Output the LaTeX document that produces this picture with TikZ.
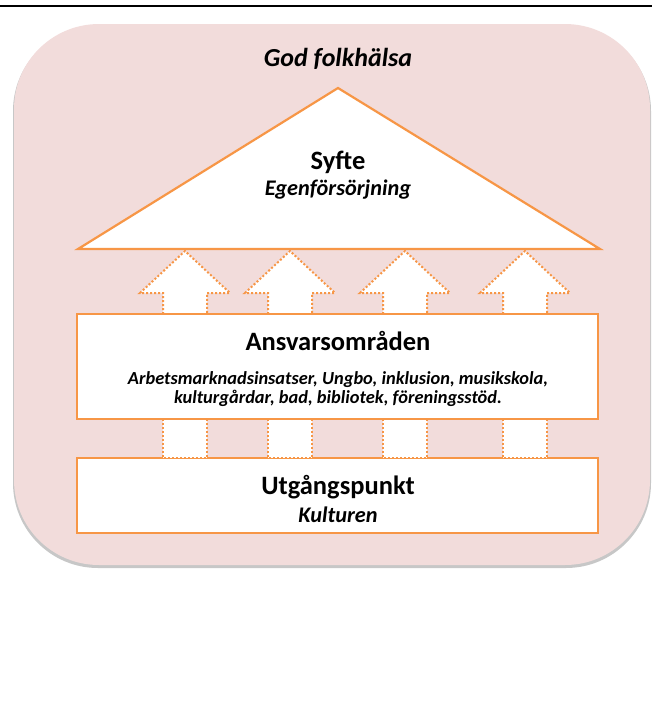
\documentclass[tikz,border=0pt]{standalone}
\usepackage{fontspec}
\setmainfont{Carlito}
\usetikzlibrary{positioning}
\definecolor{accent}{HTML}{F79646}
\definecolor{rose}{HTML}{F2DCDB}
\tikzset{box/.style = {draw = accent, line width = 2.2pt, fill = white, inner sep = 0},
  link/.style = {draw = accent, line width = 2pt, dotted, fill = white},
  head/.style = {font = \bfseries\fontsize{26.5}{30}\selectfont},
  sub/.style = {font = \bfseries\itshape\fontsize{22.3}{25}\selectfont},
  top/.style = {font = \bfseries\itshape\fontsize{26}{30}\selectfont},
  list/.style = {font = \bfseries\itshape\fontsize{18.4}{19}\selectfont, align = center}}

\begin{document}
\begin{tikzpicture}[x = 1pt, y = -1pt]
      \useasboundingbox (0, 0) rectangle (656, 710);

      \draw [line width = 1.4pt] (0, 6) -- (652, 6);
      \fill [black!22, rounded corners = 85pt] (13, 26) rectangle (651, 568);
      \fill [rose, rounded corners = 85pt] (14, 24) rectangle (650, 565);

      \coordinate (apex) at (338, 88);
      \coordinate (left) at (78, 249);
      \coordinate (right) at (600, 249);
      \draw [box] (apex) -- (right) -- (left) -- cycle;

      \foreach \x in {185, 290, 405, 525}
        \draw [link] ({\x - 22}, 314) -- ({\x - 22}, 293) -- ({\x - 45}, 293)
          -- (\x, 251) -- ({\x + 45}, 293) -- ({\x + 22}, 293) -- ({\x + 22}, 314);

      \node [box, minimum width = 521, minimum height = 75] (start) at (337.5, 495.5) {};

      \foreach \x in {185, 290, 405, 525}
        \draw [link] ({\x - 22}, 419) rectangle ({\x + 22}, 458);

      \node [box, minimum width = 521, minimum height = 105] (areas) at (337.5, 366.5) {};

      \node [top] (health) at (338, 59) {God folkhälsa};
      \node [head] (purpose) at (338, 162) {Syfte};
      \node [sub] (income) at (338, 190) {Egenförsörjning};
      \node [head] (areastitle) at (338, 341) {Ansvarsområden};
      \node [list] (arealist) at (338, 389) {Arbetsmarknadsinsatser, Ungbo, inklusion, musikskola,\\
        kulturgårdar, bad, bibliotek, föreningsstöd.};
      \node [head] (starttitle) at (338, 487) {Utgångspunkt};
      \node [sub] (culture) at (338, 515) {Kulturen};
    \end{tikzpicture}
\end{document}
